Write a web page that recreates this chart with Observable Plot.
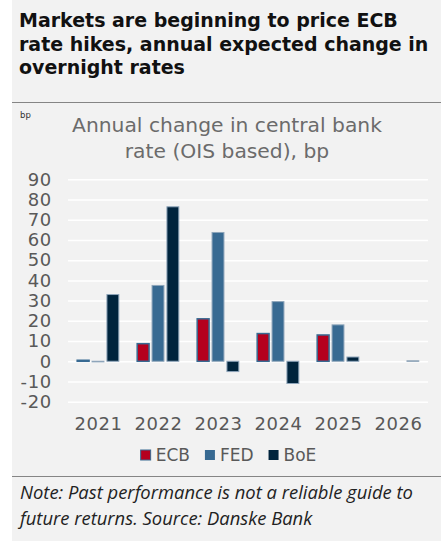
<!DOCTYPE html>
<html><head><meta charset="utf-8">
<script src="https://cdn.jsdelivr.net/npm/d3@7"></script>
<script src="https://cdn.jsdelivr.net/npm/@observablehq/plot@0.6"></script>
<style>
html,body{margin:0;padding:0;background:#fff;}
#wrap{position:relative;width:441px;height:541px;overflow:hidden;background:#fff;}
#panel{position:absolute;left:12px;top:0;width:429px;height:541px;background:#f2f2f2;}
#chart{position:absolute;left:12px;top:103px;}
#overlay{position:absolute;left:0;top:0;pointer-events:none;}
</style></head>
<body>
<div id="wrap"><div id="panel"></div><div id="chart"></div>
<svg id="overlay" width="441" height="541"></svg></div>
<script>
// ---- data ----
const years = ["2021", "2022", "2023", "2024", "2025", "2026"];
const banks = ["ECB", "FED", "BoE"];
const ecb = [0.5, 8.7, 21, 13.7, 13, null];
const fed = [-0.3, 37.5, 63.7, 29.5, 18, null];
const boe = [33, 76.4, -5.1, -11, 2.1, 0.2];
const yTicks = [-20, -10, 0, 10, 20, 30, 40, 50, 60, 70, 80, 90];
const colors = ["#b5001e", "#386a92", "#00243d"];
const titleLines = ["Markets are beginning to price ECB", "rate hikes, annual expected change in", "overnight rates"];
const subtitleLines = ["Annual change in central bank", "rate (OIS based), bp"];
const noteLines = ["Note: Past performance is not a reliable guide to", "future returns. Source: Danske Bank"];
const unitLabel = "bp";

const series = [ecb, fed, boe];
const data = years.flatMap((yr, i) => banks.map((b, j) => ({year: yr, bank: b, value: series[j][i]})))
  .filter(d => d.value != null);

const chart = Plot.plot({
  width: 429, height: 340,
  marginTop: 76.3, marginBottom: 41.3, marginLeft: 54.7, marginRight: 11,
  style: {background: "transparent", fontFamily: "DejaVu Sans", fontSize: "18px", color: "#595959", overflow: "visible", letterSpacing: "0.6px"},
  fx: {domain: years, padding: 0, label: null},
  x: {domain: banks, paddingInner: 0.2, paddingOuter: 0.617, axis: null, round: false},
  y: {domain: [-20, 90], axis: null, label: null},
  color: {domain: banks, range: colors},
  marks: [
    Plot.ruleY(yTicks, {stroke: "white", strokeWidth: 1.5}),
    Plot.axisY(yTicks, {anchor: "left", label: null, tickSize: 0, tickPadding: 16.7, tickFormat: d => String(d), fill: "#595959", fontSize: 18}),
    Plot.axisFx({anchor: "bottom", label: null, tickSize: 0, tickPadding: 15.5, fill: "#595959", fontSize: 18}),
    Plot.barY(data.filter(d => d.bank === "ECB"), {fx: "year", x: "bank", y: "value", fill: "bank", stroke: colors[1], strokeWidth: 1.5}),
    Plot.barY(data.filter(d => d.bank !== "ECB"), {fx: "year", x: "bank", y: "value", fill: "bank", stroke: "#8ea5ba", strokeWidth: 1})
  ]
});
document.getElementById("chart").appendChild(chart);

// ---- overlay texts ----
const ov = d3.select("#overlay");
function addText(str, x, y, opts) {
  const t = ov.append("text").attr("x", x).attr("y", y).text(str)
    .attr("font-family", opts.family).attr("font-size", opts.size || 20)
    .attr("fill", opts.fill || "#000");
  if (opts.weight) t.attr("font-weight", opts.weight);
  if (opts.style) t.attr("font-style", opts.style);
  if (opts.anchor) t.attr("text-anchor", opts.anchor);
  return t;
}
function fitGroup(nodes, targetW) {
  const w = nodes[0].node().getComputedTextLength();
  const s = 20 * targetW / w;
  nodes.forEach(n => n.attr("font-size", s));
}
// title
const tBase = [27, 50.5, 74];
const tn = titleLines.map((l, i) => addText(l, 19, tBase[i], {family: "DejaVu Sans", weight: 700, fill: "#111"}));
fitGroup(tn, 379);
// separators
ov.append("line").attr("x1", 12).attr("x2", 441).attr("y1", 102.5).attr("y2", 102.5).attr("stroke", "#858585").attr("stroke-width", 1);
ov.append("line").attr("x1", 12).attr("x2", 441).attr("y1", 476.5).attr("y2", 476.5).attr("stroke", "#858585").attr("stroke-width", 1);
// bp
addText(unitLabel, 20, 118, {family: "DejaVu Sans", size: 8.5, fill: "#333"});
// subtitle
const sBase = [131.7, 158];
const sn = subtitleLines.map((l, i) => addText(l, 227, sBase[i], {family: "DejaVu Sans", fill: "#6b6b6b", anchor: "middle"}));
fitGroup(sn, 310);
// note
const nBase = [499, 525];
const nn = noteLines.map((l, i) => addText(l, 20, nBase[i], {family: "Open Sans", style: "italic", fill: "#222"}));
fitGroup(nn, 393);
// legend
const colorScale = chart.scale("color");
const lg = ov.append("g");
const items = colorScale.domain.map((b, i) => {
  const t = lg.append("text").text(b).attr("font-family", "DejaVu Sans").attr("font-size", 17)
    .attr("fill", "#595959").attr("y", 460.7);
  return {b, color: colorScale.range[i], t, w: t.node().getComputedTextLength()};
});
const sq = 10, gapIn = 5, gapOut = 15;
const total = items.reduce((s, it) => s + sq + gapIn + it.w, 0) + gapOut * (items.length - 1);
let cx = 228.5 - total / 2;
items.forEach(it => {
  lg.append("rect").attr("x", cx).attr("y", 450).attr("width", sq).attr("height", sq).attr("fill", it.color)
    .attr("stroke", it.b === "ECB" ? colors[1] : "none").attr("stroke-width", 1);
  it.t.attr("x", cx + sq + gapIn);
  cx += sq + gapIn + it.w + gapOut;
});
</script>
</body></html>
